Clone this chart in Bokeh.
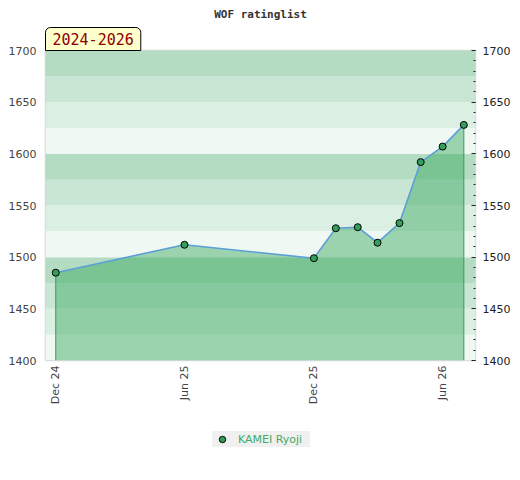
import pandas as pd
from bokeh.plotting import figure
from bokeh.layouts import column
from bokeh.models import (BoxAnnotation, LinearAxis, FixedTicker, DatetimeTickFormatter,
                          Range1d, Legend, LegendItem, Title)
from bokeh.embed import file_html
from bokeh.resources import INLINE
from math import pi

# ---- data ----
dates = ["2024-12-01", "2025-06-01", "2025-12-01", "2026-01-01", "2026-02-01",
         "2026-03-01", "2026-04-01", "2026-05-01", "2026-06-01", "2026-07-01"]
ratings = [1485, 1512, 1499, 1528, 1529, 1514, 1533, 1592, 1607, 1628]
tick_dates = ["2024-12-01", "2025-06-01", "2025-12-01", "2026-06-01"]
y_ticks = [1400, 1450, 1500, 1550, 1600, 1650, 1700]
player = "KAMEI Ryoji"
period = "2024-2026"
title_text = "WOF ratinglist"

x = pd.to_datetime(dates)
xt = pd.to_datetime(tick_dates)
y0, y1 = 1400, 1700

x_start = x[0] - pd.Timedelta(days=14.5)
x_end = x[-1] + pd.Timedelta(days=16.5)

marker_fill = "#33a05a"

p = figure(frame_width=430, frame_height=310, x_axis_type="datetime", output_backend="svg",
           toolbar_location=None, x_range=Range1d(x_start, x_end),
           y_range=Range1d(y0, y1), title=None,
           min_border_left=45, min_border_right=37, min_border_top=50,
           min_border_bottom=60)

# period box (nearest to frame) and main title
p.add_layout(Title(text=period, align="left", text_font="DejaVu Sans Mono",
                   text_font_size="15px", text_font_style="normal", text_color="#8b0000",
                   background_fill_color="#ffffcc", border_line_color="black",
                   border_line_width=1, standoff=0, offset=0,
                   padding=dict(left=7, right=7, top=5, bottom=6),
                   border_radius=(5, 5, 0, 0)), "above")
p.add_layout(Title(text=title_text, align="center", text_font="DejaVu Sans Mono",
                   text_font_size="11px", text_font_style="bold", text_color="#333333",
                   standoff=10), "above")

p.xgrid.visible = False
p.ygrid.visible = False
p.outline_line_color = "#d8d8d8"
p.outline_line_width = 1.5
p.background_fill_color = "white"

# bands
band_colors = ["#f0f8f3", "#dcefe3", "#c9e6d4", "#b3dcc3"]
for i, b in enumerate(range(y0, y1, 25)):
    p.add_layout(BoxAnnotation(bottom=b, top=b + 25, fill_color=band_colors[i % 4],
                               fill_alpha=1.0, line_color=None, level="underlay"))

# area
p.varea(x=x, y1=y0, y2=ratings, fill_color="#37a75d", fill_alpha=0.46)
p.segment(x0=[x[0], x[-1]], y0=[y0, y0], x1=[x[0], x[-1]], y1=[ratings[0], ratings[-1]],
          line_color="#3a9a5a", line_width=1)
p.line(x, ratings, line_color="#5b9fd6", line_width=1.6)
p.scatter(x, ratings, size=7, fill_color=marker_fill, line_color="black", line_width=1)

# x axis
xa = p.xaxis[0]
xa.ticker = FixedTicker(ticks=[t.value // 10**6 for t in xt], minor_ticks=[])
fmt = "%b %y"
xa.formatter = DatetimeTickFormatter(days=fmt, months=fmt, years=fmt, hours=fmt)
xa.major_label_orientation = pi / 2
xa.major_tick_line_color = None
xa.minor_tick_line_color = None
xa.major_tick_out = 0
xa.minor_tick_out = 0
xa.axis_line_color = None
xa.major_label_text_font = "DejaVu Sans"
xa.major_label_text_font_size = "11px"
xa.major_label_text_color = "#444444"
xa.major_label_standoff = 5

# left axis
ya = p.yaxis[0]
ya.ticker = FixedTicker(ticks=y_ticks)
ya.major_tick_line_color = None
ya.minor_tick_line_color = None
ya.major_tick_out = 0
ya.minor_tick_out = 0
ya.axis_line_color = None
ya.major_label_text_font = "DejaVu Sans"
ya.major_label_text_font_size = "11px"
ya.major_label_text_color = "#444444"
ya.major_label_standoff = 9

# right axis
ra = LinearAxis(ticker=FixedTicker(ticks=y_ticks, minor_ticks=list(range(y0, y1 + 1, 10))))
ra.major_tick_in = 4
ra.major_tick_out = 0
ra.minor_tick_in = 2
ra.minor_tick_out = 0
ra.major_tick_line_color = "#222222"
ra.minor_tick_line_color = "#222222"
ra.axis_line_color = None
ra.major_label_text_font = "DejaVu Sans"
ra.major_label_text_font_size = "11px"
ra.major_label_text_color = "#222222"
ra.major_label_standoff = 7
p.add_layout(ra, "right")

# legend strip below the chart (its key renderer draws the same series, off-range)
lg = figure(width=512, height=32, output_backend="svg", toolbar_location=None,
            x_axis_location=None, y_axis_location=None, min_border=0,
            x_range=Range1d(0, 1), y_range=Range1d(0, 1))
lg.xgrid.visible = False
lg.ygrid.visible = False
lg.outline_line_color = None
key = lg.scatter(x=x, y=ratings, size=6, fill_color=marker_fill, line_color="black",
                 line_width=1)
legend = Legend(items=[LegendItem(label=player, renderers=[key])], location=(167, 5),
                background_fill_color="#f0f0f0", background_fill_alpha=1.0,
                border_line_color=None, label_text_color="#44aa66",
                label_text_font="DejaVu Sans", label_text_font_size="11px",
                glyph_width=20, glyph_height=16, label_height=16, label_width=72,
                padding=5, label_standoff=6, margin=0)
lg.add_layout(legend)

layout = column(p, lg, spacing=0)
open("out.html", "w").write(file_html(layout, INLINE))
